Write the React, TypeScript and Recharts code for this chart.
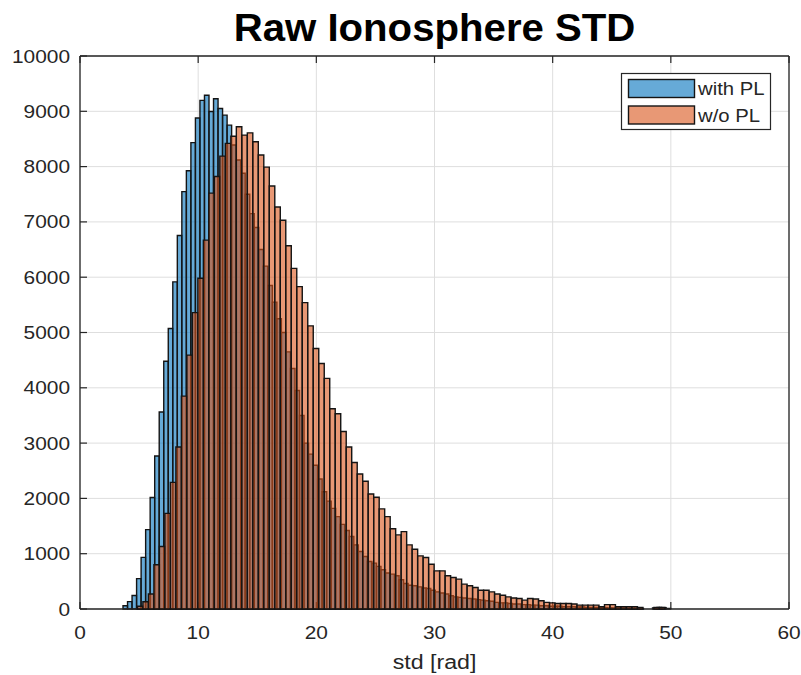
import React from 'react';
import { BarChart, Bar, XAxis, YAxis, CartesianGrid } from 'recharts';

// ---- chart text ----
const TITLE = 'Raw Ionosphere STD';
const X_LABEL = 'std [rad]';
const SERIES_NAMES = ['with PL', 'w/o PL'];

// ---- axes ----
const X_DOMAIN: [number, number] = [0, 60];
const Y_DOMAIN: [number, number] = [0, 10000];
const X_TICKS = [0, 10, 20, 30, 40, 50, 60];
const Y_TICKS = [0, 1000, 2000, 3000, 4000, 5000, 6000, 7000, 8000, 9000, 10000];

// ---- histogram "with PL": bin layout and counts per bin ----
const WITH_PL_FIRST_EDGE = 3.64;
const WITH_PL_BIN_WIDTH = 0.383;
const withPlCounts = [
  60, 134, 245, 549, 933, 1435, 2016, 2768, 3562, 4479,
  5072, 5916, 6753, 7547, 7926, 8434, 8879, 9197, 9289, 8997,
  9228, 9050, 8930, 8750, 8390, 8120, 7880, 7500, 7150, 6900,
  6500, 6200, 5850, 5550, 5250, 5000, 4650, 4350, 3950, 3500,
  3000, 2800, 2600, 2350, 2120, 1950, 1820, 1670, 1530, 1420,
  1310, 1160, 1040, 950, 860, 830, 770, 710, 650, 630,
  600, 530, 460, 430, 420, 400, 380, 370, 340, 310,
  290, 270, 240, 220, 210, 200, 190, 180, 170, 160,
  150, 140, 120, 110, 110, 100, 90, 90, 80, 80,
  70, 70, 60, 60, 50, 50, 50, 40, 40, 40,
  35, 35, 30, 30, 30, 25, 25, 20, 20, 20,
  20, 15, 15, 15, 10, 0, 0, 20, 30, 25,
  10,
];

// ---- histogram "w/o PL": bin layout and counts per bin ----
const WO_PL_FIRST_EDGE = 4.86;
const WO_PL_BIN_WIDTH = 0.465;
const woPlCounts = [
  50, 130, 270, 800, 1130, 1730, 2290, 2930, 3850, 4590,
  5360, 5980, 6670, 7520, 7820, 8190, 8420, 8550, 8720, 8570,
  8610, 8450, 8210, 7990, 7650, 7270, 7030, 6570, 6160, 5830,
  5540, 5120, 4710, 4440, 4170, 3620, 3530, 3210, 2930, 2650,
  2440, 2310, 2080, 2020, 1810, 1670, 1450, 1340, 1400, 1160,
  1080, 960, 930, 810, 690, 690, 600, 570, 540, 450,
  420, 390, 340, 340, 310, 270, 250, 220, 200, 190,
  160, 190, 180, 150, 120, 110, 100, 100, 100, 90,
  70, 70, 70, 70, 40, 80, 80, 40, 40, 40,
  40, 30, 0, 0, 30, 30,
];

const toRows = (firstEdge: number, width: number, counts: number[]) =>
  counts.map((count, i) => ({ std: firstEdge + width * (i + 0.5), count }));

const withPlRows = toRows(WITH_PL_FIRST_EDGE, WITH_PL_BIN_WIDTH, withPlCounts);
const woPlRows = toRows(WO_PL_FIRST_EDGE, WO_PL_BIN_WIDTH, woPlCounts);

// ---- layout / style ----
const W = 801;
const H = 675;
const M = { top: 56, right: 12, bottom: 66, left: 80 };
const PLOT_W = W - M.left - M.right;
const FONT = '"Liberation Sans", Arial, Helvetica, sans-serif';
const INK = '#262626';
const GRID = '#dedede';
const EDGE = '#141414';
const BLUE = '#0072BD';
const ORANGE = '#D95319';
const FACE_ALPHA = 0.6;
const EDGE_W = 1.4;
const TICK_LEN = 7;
const TICK_FONT = 18;
const STRETCH = 1.16;

const barPx = (binWidth: number) => (PLOT_W * binWidth) / (X_DOMAIN[1] - X_DOMAIN[0]) * 0.998;

// text widened horizontally around its anchor point
const WideText = ({ x, y, anchor = 'start', size, children, weight, fill = INK, sx = STRETCH }: any) => (
  <text
    transform={`translate(${x} ${y}) scale(${sx} 1)`}
    textAnchor={anchor}
    fontSize={size}
    fontWeight={weight}
    fill={fill}
    fontFamily={FONT}
  >
    {children}
  </text>
);

const BottomTick = ({ x, y, payload }: any) => (
  <g>
    <line x1={x} y1={y} x2={x} y2={y - TICK_LEN} stroke={INK} strokeWidth={1.2} />
    <WideText x={x} y={y + 29.5} anchor="middle" size={TICK_FONT}>
      {payload.value}
    </WideText>
  </g>
);

const TopTick = ({ x, y }: any) => (
  <line x1={x} y1={y} x2={x} y2={y + TICK_LEN} stroke={INK} strokeWidth={1.2} />
);

const LeftTick = ({ x, y, payload }: any) => (
  <g>
    <line x1={x} y1={y} x2={x + TICK_LEN} y2={y} stroke={INK} strokeWidth={1.2} />
    <WideText x={x - 10} y={y + 6.5} anchor="end" size={TICK_FONT}>
      {payload.value}
    </WideText>
  </g>
);

const RightTick = ({ x, y }: any) => (
  <line x1={x} y1={y} x2={x - TICK_LEN} y2={y} stroke={INK} strokeWidth={1.2} />
);

const axisLine = { stroke: INK, strokeWidth: 1.3 };

const layer: React.CSSProperties = { position: 'absolute', left: 0, top: 0 };

export default function App() {
  return (
    <div style={{ position: 'absolute', left: 0, top: 0, width: W, height: H, background: '#fff' }}>
      {/* grid and the "with PL" histogram */}
      <div style={layer}>
        <BarChart
          width={W}
          height={H}
          data={withPlRows}
          margin={{ top: M.top - 1, right: M.right - 1, bottom: 0, left: 0 }}
          barCategoryGap={0}
        >
          <CartesianGrid stroke={GRID} strokeWidth={1} />
          <XAxis
            dataKey="std"
            type="number"
            domain={X_DOMAIN}
            ticks={X_TICKS}
            interval={0}
            height={M.bottom}
            tickSize={0}
            tickMargin={0}
            tickLine={false}
            axisLine={axisLine}
            tick={(p: any) => <BottomTick {...p} />}
          />
          <XAxis
            xAxisId="top"
            dataKey="std"
            orientation="top"
            type="number"
            domain={X_DOMAIN}
            ticks={X_TICKS}
            interval={0}
            height={1}
            tickSize={0}
            tickMargin={0}
            tickLine={false}
            axisLine={axisLine}
            tick={(p: any) => <TopTick {...p} />}
          />
          <YAxis
            type="number"
            domain={Y_DOMAIN}
            ticks={Y_TICKS}
            interval={0}
            width={M.left}
            tickSize={0}
            tickMargin={0}
            tickLine={false}
            axisLine={axisLine}
            tick={(p: any) => <LeftTick {...p} />}
          />
          <YAxis
            yAxisId="right"
            orientation="right"
            type="number"
            domain={Y_DOMAIN}
            ticks={Y_TICKS}
            interval={0}
            width={1}
            tickSize={0}
            tickMargin={0}
            tickLine={false}
            axisLine={axisLine}
            tick={(p: any) => <RightTick {...p} />}
          />
          <Bar
            dataKey="count"
            name={SERIES_NAMES[0]}
            fill={BLUE}
            fillOpacity={FACE_ALPHA}
            stroke={EDGE}
            strokeWidth={EDGE_W}
            barSize={barPx(WITH_PL_BIN_WIDTH)}
            isAnimationActive={false}
          />
        </BarChart>
      </div>

      {/* "w/o PL" histogram drawn over the first one */}
      <div style={layer}>
        <BarChart width={W} height={H} data={woPlRows} margin={M} barCategoryGap={0}>
          <XAxis dataKey="std" type="number" domain={X_DOMAIN} hide />
          <YAxis type="number" domain={Y_DOMAIN} hide />
          <Bar
            dataKey="count"
            name={SERIES_NAMES[1]}
            fill={ORANGE}
            fillOpacity={FACE_ALPHA}
            stroke={EDGE}
            strokeWidth={EDGE_W}
            barSize={barPx(WO_PL_BIN_WIDTH)}
            isAnimationActive={false}
          />
        </BarChart>
      </div>

      {/* title, axis label and legend */}
      <svg width={W} height={H} style={{ ...layer, pointerEvents: 'none' }}>
        <WideText x={M.left + PLOT_W / 2} y={41} anchor="middle" size={39} weight="bold" fill="#000" sx={1.03}>
          {TITLE}
        </WideText>
        <WideText x={M.left + PLOT_W / 2} y={669} anchor="middle" size={20}>
          {X_LABEL}
        </WideText>
        <g>
          <rect x={621.5} y={73.5} width={149} height={56} fill="#fff" stroke={INK} strokeWidth={1.2} />
          {SERIES_NAMES.map((name, i) => (
            <g key={name}>
              <rect
                x={628.5}
                y={79.5 + i * 26.5}
                width={66}
                height={18}
                fill={i === 0 ? BLUE : ORANGE}
                fillOpacity={FACE_ALPHA}
                stroke={EDGE}
                strokeWidth={1.4}
              />
              <WideText x={698} y={95 + i * 26.5} size={17.5}>
                {name}
              </WideText>
            </g>
          ))}
        </g>
      </svg>
    </div>
  );
}
